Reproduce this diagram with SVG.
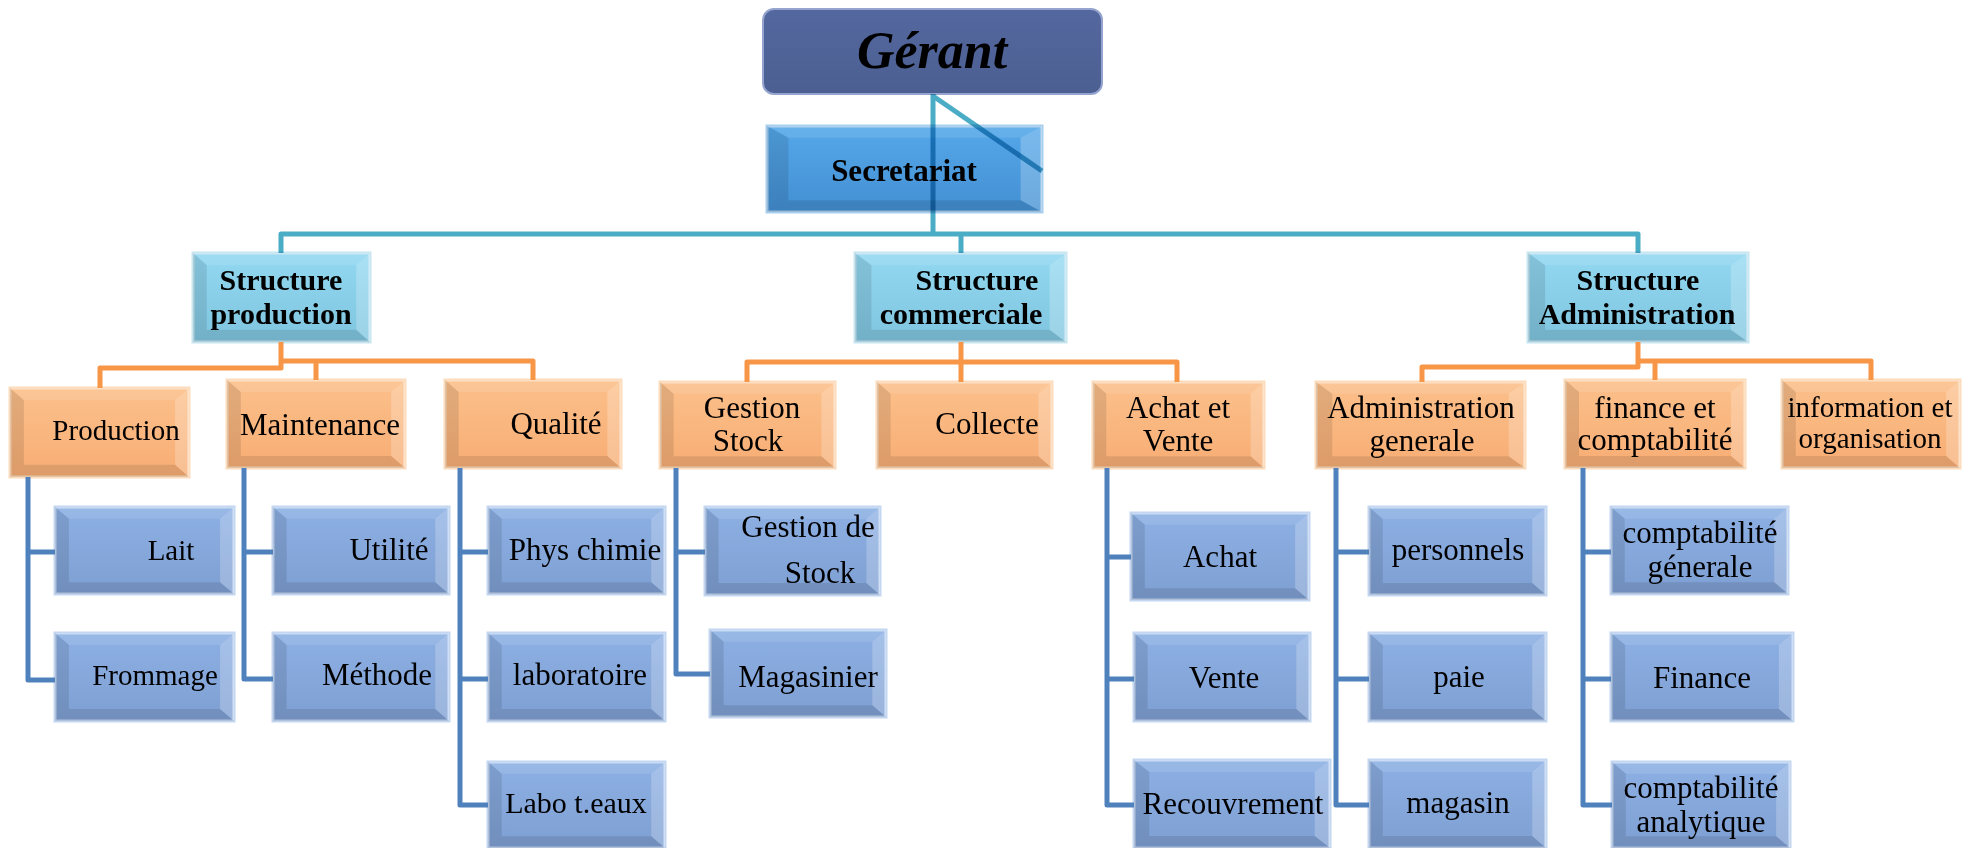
<svg xmlns="http://www.w3.org/2000/svg" xmlns:xlink="http://www.w3.org/1999/xlink" width="1982" height="848" viewBox="0 0 1982 848">
<style>
text{font-family:"Liberation Serif","Times New Roman",serif;fill:#000;text-anchor:middle}
.t{font-size:31px}
.ts{font-size:29px}
.b{font-size:31px;font-weight:bold}
.b2{font-size:30px;font-weight:bold}
.or{fill:url(#gOr);stroke:#fcdcbc;stroke-width:3}
.bl{fill:url(#gBl);stroke:#c4d7f2;stroke-width:3}
.cy{fill:url(#gCy);stroke:#c6e6f2;stroke-width:3}
.se{fill:url(#gSe);stroke:#a9cfee;stroke-width:3}
.cT{fill:none;stroke:#4bacc6;stroke-width:5;stroke-linejoin:round}
.cO{fill:none;stroke:#f79646;stroke-width:5;stroke-linejoin:round}
.cB{fill:none;stroke:#4f81bd;stroke-width:5;stroke-linejoin:round}
</style>
<defs>
<linearGradient id="gOr" x1="0" y1="0" x2="0" y2="1"><stop offset="0" stop-color="#fcc08b"/><stop offset="1" stop-color="#f7ad74"/></linearGradient>
<linearGradient id="gBl" x1="0" y1="0" x2="0" y2="1"><stop offset="0" stop-color="#8db0e4"/><stop offset="1" stop-color="#7e9fd2"/></linearGradient>
<linearGradient id="gCy" x1="0" y1="0" x2="0" y2="1"><stop offset="0" stop-color="#92d8f1"/><stop offset="1" stop-color="#80c5df"/></linearGradient>
<linearGradient id="gSe" x1="0" y1="0" x2="0" y2="1"><stop offset="0" stop-color="#55a8ea"/><stop offset="1" stop-color="#438fd2"/></linearGradient>
<linearGradient id="gGe" x1="0" y1="0" x2="0" y2="1"><stop offset="0" stop-color="#5468a0"/><stop offset="1" stop-color="#4b5f91"/></linearGradient>
<symbol id="bev" viewBox="0 0 180 88" preserveAspectRatio="none">
<polygon points="0,0 180,0 166,12 14,12" fill="#fff" fill-opacity="0.1"/>
<polygon points="0,0 14,12 14,76 0,88" fill="#000" fill-opacity="0.1"/>
<polygon points="180,0 180,88 166,76 166,12" fill="#fff" fill-opacity="0.22"/>
<polygon points="0,88 14,76 166,76 180,88" fill="#000" fill-opacity="0.1"/>
</symbol>
</defs>

<g id="node-gerant">
<rect x="763" y="9" width="339" height="85" rx="11" fill="url(#gGe)" stroke="#95a4cf" stroke-width="2"/>
<text x="932" y="68" style="font-size:52px;font-weight:bold;font-style:italic">Gérant</text>
</g>
<g id="node-secretariat">
<rect class="se" x="767" y="126" width="275" height="86"/><use xlink:href="#bev" x="767" y="126" width="275" height="86"/>
<text class="b" x="904" y="181">Secretariat</text>
</g>

<g id="node-structure-production">
<rect class="cy" x="193" y="253" width="177" height="89"/><use xlink:href="#bev" x="193" y="253" width="177" height="89"/>
<text class="b2" x="281" y="290">Structure</text><text class="b2" x="281" y="324">production</text>
</g>
<g id="node-structure-commerciale">
<rect class="cy" x="855" y="253" width="211" height="89"/><use xlink:href="#bev" x="855" y="253" width="211" height="89"/>
<text class="b2" x="977" y="290">Structure</text><text class="b2" x="961" y="324">commerciale</text>
</g>
<g id="node-structure-administration">
<rect class="cy" x="1528" y="253" width="220" height="89"/><use xlink:href="#bev" x="1528" y="253" width="220" height="89"/>
<text class="b2" x="1638" y="290">Structure</text><text class="b2" x="1637" y="324">Administration</text>
</g>

<g id="node-production">
<rect class="or" x="10" y="388" width="179" height="89"/><use xlink:href="#bev" x="10" y="388" width="179" height="89"/>
<text class="ts" x="116" y="440">Production</text>
</g>
<g id="node-maintenance">
<rect class="or" x="227" y="380" width="178" height="88"/><use xlink:href="#bev" x="227" y="380" width="178" height="88"/>
<text class="t" x="320" y="435">Maintenance</text>
</g>
<g id="node-qualite">
<rect class="or" x="445" y="380" width="176" height="88"/><use xlink:href="#bev" x="445" y="380" width="176" height="88"/>
<text class="t" x="556" y="434">Qualité</text>
</g>
<g id="node-gestion-stock">
<rect class="or" x="660" y="382" width="175" height="86"/><use xlink:href="#bev" x="660" y="382" width="175" height="86"/>
<text class="t" x="752" y="418">Gestion</text><text class="t" x="748" y="451">Stock</text>
</g>
<g id="node-collecte">
<rect class="or" x="877" y="382" width="175" height="86"/><use xlink:href="#bev" x="877" y="382" width="175" height="86"/>
<text class="t" x="987" y="434">Collecte</text>
</g>
<g id="node-achat-vente">
<rect class="or" x="1093" y="382" width="171" height="86"/><use xlink:href="#bev" x="1093" y="382" width="171" height="86"/>
<text class="t" x="1178" y="418">Achat et</text><text class="t" x="1178" y="451">Vente</text>
</g>
<g id="node-administration-generale">
<rect class="or" x="1316" y="382" width="209" height="86"/><use xlink:href="#bev" x="1316" y="382" width="209" height="86"/>
<text class="t" x="1421" y="418">Administration</text><text class="t" x="1422" y="451">generale</text>
</g>
<g id="node-finance-comptabilite">
<rect class="or" x="1565" y="380" width="180" height="88"/><use xlink:href="#bev" x="1565" y="380" width="180" height="88"/>
<text class="t" x="1655" y="418">finance et</text><text class="t" x="1655" y="450">comptabilité</text>
</g>
<g id="node-information-organisation">
<rect class="or" x="1782" y="380" width="178" height="88"/><use xlink:href="#bev" x="1782" y="380" width="178" height="88"/>
<text class="ts" x="1870" y="417">information et</text><text class="ts" x="1870" y="448">organisation</text>
</g>

<g id="node-lait"><rect class="bl" x="55" y="507" width="179" height="87"/><use xlink:href="#bev" x="55" y="507" width="179" height="87"/><text class="ts" x="171" y="560">Lait</text></g>
<g id="node-frommage"><rect class="bl" x="55" y="633" width="179" height="88"/><use xlink:href="#bev" x="55" y="633" width="179" height="88"/><text class="ts" x="155" y="685">Frommage</text></g>
<g id="node-utilite"><rect class="bl" x="273" y="507" width="176" height="87"/><use xlink:href="#bev" x="273" y="507" width="176" height="87"/><text class="t" x="389" y="560">Utilité</text></g>
<g id="node-methode"><rect class="bl" x="273" y="633" width="176" height="88"/><use xlink:href="#bev" x="273" y="633" width="176" height="88"/><text class="t" x="377" y="685">Méthode</text></g>
<g id="node-phys-chimie"><rect class="bl" x="488" y="507" width="177" height="87"/><use xlink:href="#bev" x="488" y="507" width="177" height="87"/><text class="t" x="585" y="560">Phys chimie</text></g>
<g id="node-laboratoire"><rect class="bl" x="488" y="633" width="177" height="88"/><use xlink:href="#bev" x="488" y="633" width="177" height="88"/><text class="t" x="580" y="685">laboratoire</text></g>
<g id="node-labo-teaux"><rect class="bl" x="488" y="762" width="177" height="86"/><use xlink:href="#bev" x="488" y="762" width="177" height="86"/><text class="t" x="576" y="813" style="font-size:30px">Labo t.eaux</text></g>
<g id="node-gestion-de-stock"><rect class="bl" x="705" y="507" width="175" height="88"/><use xlink:href="#bev" x="705" y="507" width="175" height="88"/><text class="t" x="808" y="537">Gestion de</text><text class="t" x="820" y="583">Stock</text></g>
<g id="node-magasinier"><rect class="bl" x="710" y="630" width="176" height="87"/><use xlink:href="#bev" x="710" y="630" width="176" height="87"/><text class="t" x="808" y="687">Magasinier</text></g>
<g id="node-achat"><rect class="bl" x="1131" y="513" width="178" height="87"/><use xlink:href="#bev" x="1131" y="513" width="178" height="87"/><text class="t" x="1220" y="567">Achat</text></g>
<g id="node-vente"><rect class="bl" x="1134" y="633" width="176" height="88"/><use xlink:href="#bev" x="1134" y="633" width="176" height="88"/><text class="t" x="1224" y="688">Vente</text></g>
<g id="node-recouvrement"><rect class="bl" x="1134" y="760" width="196" height="88"/><use xlink:href="#bev" x="1134" y="760" width="196" height="88"/><text class="t" x="1233" y="814">Recouvrement</text></g>
<g id="node-personnels"><rect class="bl" x="1369" y="507" width="177" height="88"/><use xlink:href="#bev" x="1369" y="507" width="177" height="88"/><text class="t" x="1458" y="560">personnels</text></g>
<g id="node-paie"><rect class="bl" x="1369" y="633" width="177" height="88"/><use xlink:href="#bev" x="1369" y="633" width="177" height="88"/><text class="t" x="1459" y="687">paie</text></g>
<g id="node-magasin"><rect class="bl" x="1369" y="760" width="177" height="88"/><use xlink:href="#bev" x="1369" y="760" width="177" height="88"/><text class="t" x="1458" y="813">magasin</text></g>
<g id="node-comptabilite-generale"><rect class="bl" x="1611" y="507" width="177" height="87"/><use xlink:href="#bev" x="1611" y="507" width="177" height="87"/><text class="t" x="1700" y="543">comptabilité</text><text class="t" x="1700" y="577">génerale</text></g>
<g id="node-finance"><rect class="bl" x="1611" y="633" width="182" height="88"/><use xlink:href="#bev" x="1611" y="633" width="182" height="88"/><text class="t" x="1702" y="688">Finance</text></g>
<g id="node-comptabilite-analytique"><rect class="bl" x="1612" y="762" width="178" height="86"/><use xlink:href="#bev" x="1612" y="762" width="178" height="86"/><text class="t" x="1701" y="798">comptabilité</text><text class="t" x="1701" y="832">analytique</text></g>

<g id="connectors">
<g style="mix-blend-mode:multiply">
<path class="cT" d="M933,94 V234"/>
<path class="cT" d="M933,96 L1042,171"/>
<path class="cT" d="M281,253 V234 H1638 V253"/>
<path class="cT" d="M961,234 V253"/>
</g>
<path class="cO" d="M281,342 V368 H100 V388"/>
<path class="cO" d="M281,361 H533 V380"/>
<path class="cO" d="M316,361 V380"/>
<path class="cO" d="M961,342 V362"/>
<path class="cO" d="M747,382 V362 H1177 V382"/>
<path class="cO" d="M961,362 V382"/>
<path class="cO" d="M1638,342 V367 H1422 V382"/>
<path class="cO" d="M1638,361 H1871 V380"/>
<path class="cO" d="M1655,361 V380"/>
<path class="cB" d="M28,477 V680 H55"/><path class="cB" d="M28,552 H55"/>
<path class="cB" d="M244,468 V679 H273"/><path class="cB" d="M244,552 H273"/>
<path class="cB" d="M460,468 V805 H488"/><path class="cB" d="M460,552 H488"/><path class="cB" d="M460,679 H488"/>
<path class="cB" d="M676,468 V674 H710"/><path class="cB" d="M676,552 H705"/>
<path class="cB" d="M1107,468 V805 H1134"/><path class="cB" d="M1107,557 H1131"/><path class="cB" d="M1107,679 H1134"/>
<path class="cB" d="M1336,468 V805 H1369"/><path class="cB" d="M1336,552 H1369"/><path class="cB" d="M1336,679 H1369"/>
<path class="cB" d="M1583,468 V805 H1612"/><path class="cB" d="M1583,552 H1611"/><path class="cB" d="M1583,679 H1611"/>
</g>
</svg>
